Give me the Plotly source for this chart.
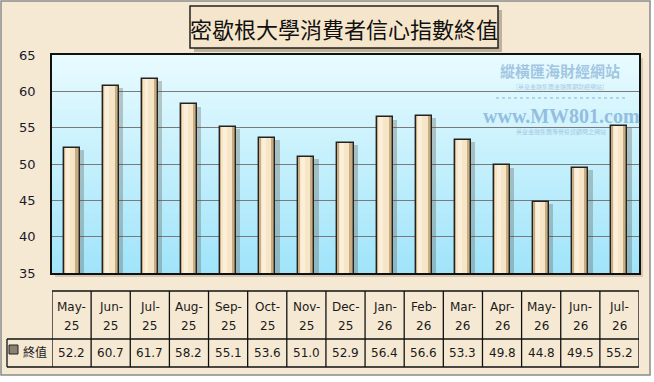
import plotly.graph_objects as go

# ---------------- data ----------------
months = ["May-25", "Jun-25", "Jul-25", "Aug-25", "Sep-25", "Oct-25", "Nov-25", "Dec-25",
          "Jan-26", "Feb-26", "Mar-26", "Apr-26", "May-26", "Jun-26", "Jul-26"]
values = [52.2, 60.7, 61.7, 58.2, 55.1, 53.6, 51.0, 52.9, 56.4, 56.6, 53.3, 49.8, 44.8, 49.5, 55.2]
series_name = "終值"
title_text = "密歇根大學消費者信心指數終值"
y_ticks = [35, 40, 45, 50, 55, 60, 65]

# ---------------- geometry helpers (pixel -> paper) ----------------
W, H = 654, 382
PL, PR, PT, PB = 52, 639, 55, 273
PW, PH = PR - PL, PB - PT


def X(px):
    return (px - PL) / PW


def Y(py):
    return (PB - py) / PH


n = len(months)
xs = list(range(n))
FONT = "DejaVu Sans"
CJK = "Noto Sans CJK TC"

fig = go.Figure()

bw = 0.41
# shadow
fig.add_trace(go.Bar(x=xs, y=[v - 0.3 for v in values], base=0, width=bw, offset=-bw / 2 + 0.11,
                     marker=dict(color="rgba(80,70,50,0.28)", line=dict(width=0)),
                     hoverinfo="skip", showlegend=False))
# body (darker edges)
fig.add_trace(go.Bar(x=xs, y=values, width=bw, offset=-bw / 2,
                     marker=dict(color="#c8ad82", line=dict(width=0)),
                     hoverinfo="skip", showlegend=False))
# highlight
fig.add_trace(go.Bar(x=xs, y=values, width=0.27, offset=-bw / 2 + 0.035,
                     marker=dict(color="#f6e5c6", line=dict(width=0)),
                     hoverinfo="skip", showlegend=False))
fig.add_trace(go.Bar(x=xs, y=values, width=0.10, offset=-bw / 2 + 0.07,
                     marker=dict(color="#fbefd9", line=dict(width=0)),
                     hoverinfo="skip", showlegend=False))
# outline
fig.add_trace(go.Bar(x=xs, y=values, width=bw, offset=-bw / 2, name=series_name,
                     marker=dict(color="rgba(0,0,0,0)", line=dict(color="#222222", width=1.4)),
                     showlegend=False))

shapes = []
annotations = []

# outer frame / parchment background
shapes.append(dict(type="rect", xref="paper", yref="paper", x0=X(1), x1=X(650), y0=Y(1), y1=Y(375),
                   fillcolor="#f6e9d3", line=dict(color="#8a8a8a", width=1.5), layer="below"))

# plot shadow
shapes.append(dict(type="rect", xref="paper", yref="paper", x0=X(PL + 3), x1=X(PR + 4), y0=Y(PB + 4), y1=Y(PT + 3),
                   fillcolor="rgba(120,100,70,0.25)", line=dict(width=0), layer="below"))

# plot area gradient
top = (232, 251, 255)
bot = (160, 228, 250)
steps = 40
for i in range(steps):
    t = (i + 0.5) / steps
    c = tuple(int(round(top[k] + (bot[k] - top[k]) * t)) for k in range(3))
    shapes.append(dict(type="rect", xref="paper", yref="paper", x0=0, x1=1,
                       y0=max(0, 1 - (i + 1.6) / steps), y1=1 - i / steps,
                       fillcolor="rgb(%d,%d,%d)" % c, line=dict(width=0), layer="below"))

# title box
shapes.append(dict(type="rect", xref="paper", yref="paper", x0=X(194), x1=X(502), y0=Y(52), y1=Y(10),
                   fillcolor="rgba(90,75,50,0.35)", line=dict(width=0)))
shapes.append(dict(type="rect", xref="paper", yref="paper", x0=X(190), x1=X(498), y0=Y(48), y1=Y(6),
                   fillcolor="#f5e6cb", line=dict(color="#222222", width=1.5)))
annotations.append(dict(text=title_text, xref="paper", yref="paper", x=X(344), y=Y(28),
                        showarrow=False, xanchor="center", yanchor="middle",
                        font=dict(family=CJK, size=22, color="#111111")))

# watermark
annotations.append(dict(text="<b>縱橫匯海財經網站</b>", xref="paper", yref="paper", x=X(560), y=Y(70),
                        showarrow=False, xanchor="center", yanchor="middle",
                        font=dict(family=CJK, size=15, color="rgba(140,180,215,0.75)")))
annotations.append(dict(text="[英皇金融集團金融匯期財經網站]", xref="paper", yref="paper", x=X(560), y=Y(86),
                        showarrow=False, xanchor="center", yanchor="middle",
                        font=dict(family=CJK, size=6, color="rgba(140,180,215,0.7)")))
shapes.append(dict(type="line", xref="paper", yref="paper", x0=X(496), x1=X(625), y0=Y(98), y1=Y(98),
                   line=dict(color="rgba(140,180,215,0.7)", width=1.5, dash="dot")))
annotations.append(dict(text="<b>www.MW801.com</b>", xref="paper", yref="paper", x=X(561), y=Y(116),
                        showarrow=False, xanchor="center", yanchor="middle",
                        font=dict(family="Liberation Serif", size=20, color="rgba(130,175,215,0.8)")))
annotations.append(dict(text="英皇金融集團專營投資顧問之網站", xref="paper", yref="paper", x=X(561), y=Y(131),
                        showarrow=False, xanchor="center", yanchor="middle",
                        font=dict(family=CJK, size=6, color="rgba(140,180,215,0.7)")))

# table
ty0, ty1, ty2 = 291, 339, 367
tl = 7
line_style = dict(color="#111111", width=1.3)
shapes.append(dict(type="line", xref="paper", yref="paper", x0=0, x1=1, y0=Y(ty0), y1=Y(ty0), line=line_style))
for py in (ty1, ty2):
    shapes.append(dict(type="line", xref="paper", yref="paper", x0=X(tl), x1=1, y0=Y(py), y1=Y(py), line=line_style))
shapes.append(dict(type="line", xref="paper", yref="paper", x0=X(tl), x1=X(tl), y0=Y(ty1), y1=Y(ty2), line=line_style))
for i in range(n + 1):
    shapes.append(dict(type="line", xref="x", yref="paper", x0=i - 0.5, x1=i - 0.5, y0=Y(ty0), y1=Y(ty2),
                       line=line_style))

tfont = dict(family=FONT, size=12, color="#1a1a1a")
for i, (m, v) in enumerate(zip(months, values)):
    mon, yr = m.split("-")
    annotations.append(dict(text=mon + "-", xref="x", yref="paper", x=i, y=Y(307), showarrow=False,
                            xanchor="center", yanchor="middle", font=tfont))
    annotations.append(dict(text=yr, xref="x", yref="paper", x=i, y=Y(326), showarrow=False,
                            xanchor="center", yanchor="middle", font=tfont))
    annotations.append(dict(text="%.1f" % v, xref="x", yref="paper", x=i, y=Y(353), showarrow=False,
                            xanchor="center", yanchor="middle", font=tfont))

# legend key
shapes.append(dict(type="rect", xref="paper", yref="paper", x0=X(9), x1=X(18), y0=Y(354), y1=Y(345),
                   fillcolor="#8a8170", line=dict(color="#222222", width=1)))
annotations.append(dict(text=series_name, xref="paper", yref="paper", x=X(21), y=Y(351), showarrow=False,
                        xanchor="left", yanchor="middle", font=dict(family=CJK, size=12, color="#1a1a1a")))

fig.update_layout(
    width=W, height=H,
    margin=dict(l=PL, r=W - PR, t=PT, b=H - PB, pad=0),
    paper_bgcolor="white",
    plot_bgcolor="rgba(0,0,0,0)",
    barmode="overlay",
    bargap=0,
    shapes=shapes,
    annotations=annotations,
    showlegend=False,
    xaxis=dict(range=[-0.5, n - 0.5], showticklabels=False, showgrid=False, zeroline=False,
               showline=True, linecolor="#111111", linewidth=1.5, mirror=True, ticks=""),
    yaxis=dict(range=[35, 65], tickvals=y_ticks, showgrid=True, gridcolor="#7a7a7a", gridwidth=1.2,
               zeroline=False, showline=True, linecolor="#111111", linewidth=1.5, mirror=True,
               ticks="", ticklabelstandoff=12,
               tickfont=dict(family=FONT, size=13, color="#1a1a2a")),
)

fig.write_html("out.html")
